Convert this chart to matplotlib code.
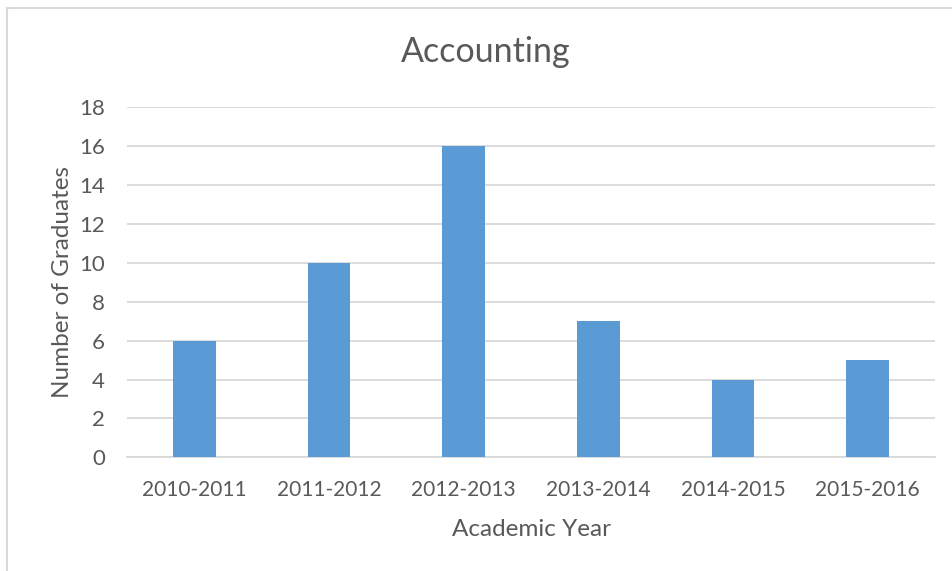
import matplotlib.pyplot as plt
from matplotlib.patches import Rectangle

years = ['2010-2011', '2011-2012', '2012-2013', '2013-2014', '2014-2015', '2015-2016']
graduates = [6, 10, 16, 7, 4, 5]
y_ticks = [0, 2, 4, 6, 8, 10, 12, 14, 16, 18]

text_color = '#595959'
grid_color = '#D9D9D9'
bar_color = '#5B9BD5'

plt.rcParams['font.family'] = ['Lato', 'DejaVu Sans']

fig = plt.figure(figsize=(9.52, 5.71), dpi=100)
ax = fig.add_axes([127 / 952, 1 - 457.3 / 571, 808 / 952, 350 / 571])

x = list(range(len(years)))
ax.bar(x, graduates, width=0.315, color=bar_color, zorder=3)

ax.set_xlim(-0.5, len(years) - 0.5)
ax.set_ylim(0, 18)
ax.set_xticks(x)
ax.set_xticklabels(years)
ax.set_yticks(y_ticks)

# horizontal gridlines only, excel-like
ax.yaxis.grid(True, color=grid_color, linewidth=1.3, zorder=0)
for side in ['top', 'right', 'left']:
    ax.spines[side].set_visible(False)
ax.spines['bottom'].set_color(grid_color)
ax.spines['bottom'].set_linewidth(1.3)
ax.tick_params(axis='both', length=0, colors=text_color)
ax.tick_params(axis='y', pad=16, labelsize=16)
ax.tick_params(axis='x', pad=16.5, labelsize=15)

ax.set_xlabel('Academic Year', fontsize=17.5, color=text_color, labelpad=13.5)
ax.set_ylabel('Number of Graduates', fontsize=17.5, color=text_color, labelpad=4.5)
fig.text(486 / 952, 1 - 52 / 571, 'Accounting', fontsize=24.5, color=text_color,
         ha='center', va='center')

# chart area border
fig.patches.append(Rectangle((7 / 952, -0.1), 1.2, 1 - 8 / 571 + 0.1,
                             transform=fig.transFigure, fill=False,
                             edgecolor=grid_color, linewidth=1.5))

fig.savefig('out.png', dpi=100)
